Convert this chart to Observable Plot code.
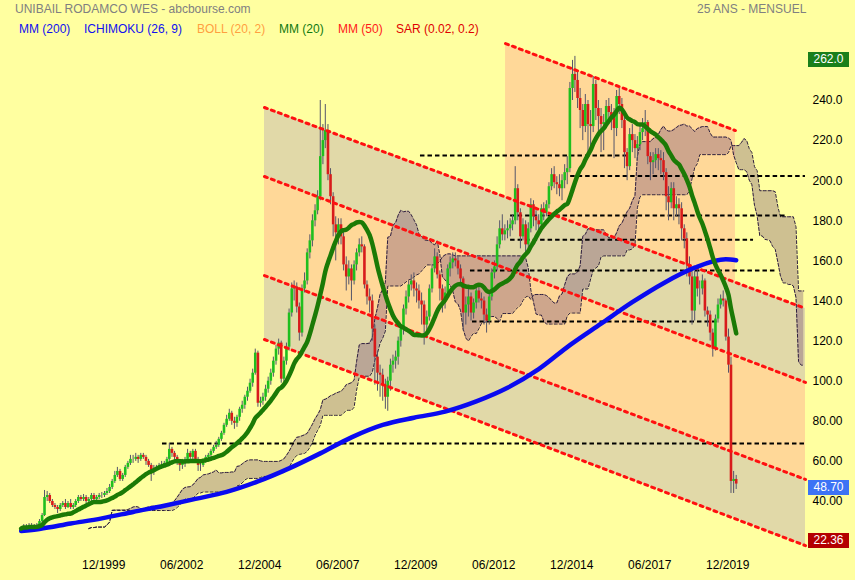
<!DOCTYPE html>
<html><head><meta charset="utf-8">
<script src="https://cdn.jsdelivr.net/npm/d3@7"></script>
<script src="https://cdn.jsdelivr.net/npm/@observablehq/plot@0.6"></script>
<style>
body{margin:0;background:#FFFFA0;}
#wrap{position:relative;width:855px;height:580px;overflow:hidden;font-family:"Liberation Sans",Arial,sans-serif;background:#FFFFA0;}
#wrap svg{position:absolute;left:0;top:0;}
.t{position:absolute;white-space:nowrap;font-size:12px;line-height:14px;}
.box{position:absolute;left:808px;width:41px;height:15px;color:#fff;font-size:12px;line-height:15px;text-align:center;}
</style></head><body><div id="wrap"></div>
<script>
// ---------- data (monthly, Jun 1997 -> May 2020) ----------
const firstMonth = [1997, 6];
const firstOpen = 26;
const closes = [
26.5,27.5,27,28,27.5,27,28,
30,33,42,43,40,38,37,36,38,39,37,39,
37,38,40,42,41,42,40,41,43,41,42,43,
43,44,45,47,50,53,55,51,53,57,59,61,
61,62,61,63,62,60,58,55,56,57,58,58,
59,61,66,64,62,60,58,59,61,64,62,65,
61,58,58,60,62,63,65,67,68,71,74,78,
81,84,80,79,82,86,88,92,95,99,104,114,
89,90,92,96,100,104,110,116,119,101,110,117,
134,146,147,137,124,146,150,164,170,180,185,192,
212,220,225,203,192,178,174,178,172,158,152,156,
150,158,164,168,167,148,142,140,126,112,104,103,
98,92,100,108,110,112,120,126,136,142,148,150,
146,145,140,138,128,132,146,156,162,153,146,140,
144,156,159,161,160,156,151,134,138,142,134,139,
145,141,140,133,130,142,154,157,168,176,173,175,
176,178,180,196,184,172,178,168,176,188,182,180,
178,186,184,188,197,203,199,198,196,200,204,206,
246,253,250,241,235,227,238,228,227,248,236,232,
228,229,237,234,232,226,242,238,230,214,207,223,
220,216,218,224,226,229,212,209,210,213,211,210,
204,192,189,196,186,188,186,176,171,158,152,135,
152,146,146,150,135,133,124,116,131,138,141,140,
122,108,50,51,48.7];
const highs = [
27.5,28.5,28.5,29,29,28.5,29,
31,34,45.5,45,44,41,39,38,39,40,41,40,
41,39,41,43,43,43.5,43,42,44,44,43,44,
44.5,45,46.5,48.5,51,55,57,56,54,58,60,63,
63,64,63,64,64,63,61,59,58,58,59,60,
60,62,69,67,65,63,61,61,62,66,65,66,
66,62,60,61,63,64,66,68,70,72,75,79,
83,86,85,82,83,87,90,93,97,101,106,116,
115,92,94,98,102,106,112,118,121,120,112,119,
136,149,150,149,139,148,154,166,173,183,188,195,
240,228,238,228,206,194,182,181,181,175,162,160,
158,160,166,171,172,168,150,146,143,128,115,108,
106,101,102,111,113,115,122,128,138,145,150,153,
154,149,148,144,140,135,148,158,166,164,155,148,
147,158,162,164,164,162,158,152,142,146,144,141,
147,148,144,142,136,144,156,160,172,180,183,178,
180,181,183,207,198,186,181,180,179,191,190,185,
183,188,189,190,199,206,207,202,203,203,208,212,
249,260,262,254,246,238,243,240,235,252,250,240,
236,233,240,241,238,236,245,246,241,232,216,226,
228,223,222,228,231,235,230,214,214,216,216,215,
214,206,197,199,199,192,191,189,178,174,162,155,
155,156,150,153,151,137,135,126,133,141,143,145,
141,126,112,55,53];
const lows = [
25.5,26,26.5,26.5,27,26.5,26.5,
27.5,29.5,32.5,40,39,37,36,34,35,37,36,36.5,
36,36,37,39,40,40,39,39,40,40,40,41,
41.5,42,43,44,46,49,52,50,50,52,56,58,
59,60,59,60,61,58,57,50,53,55,56,56,
57,58,60,62,60,58,55,56,57,60,61,61,
60,55,55,57,59,61,62,64,66,67,70,73,
77,80,78,76,77,80,84,86,90,94,97,103,
87,87,88,90,94,98,102,108,113,99,99,108,
115,132,140,134,120,122,144,148,161,167,177,183,
190,208,216,200,188,172,160,168,168,155,145,148,
140,148,155,162,164,146,138,134,120,98,95,92,
90,86,85,95,104,106,108,117,123,133,139,145,
142,139,136,128,118,125,130,144,154,151,140,134,
136,142,152,156,157,153,148,125,128,132,130,131,
136,139,136,128,124,128,140,151,155,166,170,170,
171,172,175,178,180,166,170,164,166,174,177,175,
173,176,180,182,186,195,196,193,192,190,196,198,
204,240,244,236,226,220,224,212,215,224,230,222,
214,215,226,228,225,211,222,233,226,206,200,205,
214,211,210,215,220,222,208,200,203,206,205,203,
200,185,180,186,180,182,178,170,166,152,148,128,
130,142,138,143,132,127,120,112,115,129,136,137,
120,104,44,44,46];

// MM(200)
const mm200Dates = ["1997-06","1998-01","1999-01","2000-01","2001-01","2002-01","2003-01","2004-01","2005-01","2006-01","2007-01","2008-01","2009-01","2010-01","2011-01","2012-01","2013-01","2014-01","2015-01","2016-01","2017-01","2018-01","2019-01","2020-01","2020-05"];
const mm200Values = [25.3,26.3,29,31.6,34.8,37.9,41.3,44.8,50,56.5,64,72,78.2,81.8,84.8,89.9,96.7,106,118,128.7,139.4,148.9,156.6,160.8,160.3];

// regression channels (start, end, [startValue, endValue] per line)
const chanAStart = "2005-03-19", chanAEnd = "2022-07-21";
const chanALines = [[236.5,136.3],[202.1,99.4],[152.7,51.0],[120.8,18.0]];
const chanBStart = "2012-12-09", chanBEnd = "2020-04-22";
const chanBTop = [268.4, 225.0];

// horizontal support / resistance levels
const levelValues = [212.6, 202.4, 182.6, 170.5, 155.2, 129.8, 68.9];
const levelFrom = ["2010-03-19","2015-01-10","2013-02-06","2013-02-06","2011-10-25","2011-11-18","2001-12-11"];
const levelTo   = ["2016-12-10","2022-07-21","2021-12-22","2020-11-20","2021-08-03","2019-09-25","2022-07-21"];

// axes
const yTicks = [40,60,80,100,120,140,160,180,200,220,240];
const xTicks = ["1999-12","2002-06","2004-12","2007-06","2009-12","2012-06","2014-12","2017-06","2019-12"];

// value boxes
const boxValues = [262.0, 48.70, 22.36];
const boxLabels = ["262.0", "48.70", "22.36"];
const boxColors = ["#1a7f1a", "#3d73f5", "#b40000"];

// ---------- derived ----------
const pd = s => { const [y,m,d] = s.split("-").map(Number); return new Date(Date.UTC(y, m-1, d||1)); };
const monthDate = i => new Date(Date.UTC(firstMonth[0], firstMonth[1]-1+i, 1));
const N = closes.length;
const candles = closes.map((c,i) => ({date: monthDate(i), o: i ? closes[i-1] : firstOpen, c, h: highs[i], l: lows[i]}));
candles.forEach(d => d.up = d.c >= d.o);

const mm20 = closes.map((_,i) => ({date: monthDate(i), v: d3.mean(closes.slice(Math.max(0,i-19), i+1))}));
const mm200 = mm200Dates.map((d,i) => ({date: pd(d), v: mm200Values[i]}));

const mid = (i,n) => (d3.max(highs.slice(Math.max(0,i-n+1), i+1)) + d3.min(lows.slice(Math.max(0,i-n+1), i+1))) / 2;
const cloud = closes.map((_,i) => {
  const tenkan = mid(i,9), kijun = mid(i,26);
  return {date: monthDate(i+26), a: (tenkan+kijun)/2, b: mid(i,52)};
});

const lerpDate = (d0, d1, v0, v1, d) => v0 + (v1-v0) * (d - d0) / (d1 - d0);
const aS = pd(chanAStart), aE = pd(chanAEnd), bS = pd(chanBStart), bE = pd(chanBEnd);
const band = (i,j) => [{x:aS, y1:chanALines[i][0], y2:chanALines[j][0]}, {x:aE, y1:chanALines[i][1], y2:chanALines[j][1]}];
const bandB = [
  {x:bS, y1:chanBTop[0], y2:lerpDate(aS,aE,chanALines[0][0],chanALines[0][1],bS)},
  {x:bE, y1:chanBTop[1], y2:lerpDate(aS,aE,chanALines[0][0],chanALines[0][1],bE)}
];
const redLines = chanALines.map(l => [{x:aS,v:l[0]},{x:aE,v:l[1]}]);
redLines.push([{x:bS,v:chanBTop[0]},{x:bE,v:chanBTop[1]}]);
const levels = levelValues.map((v,i) => ({v, x1: pd(levelFrom[i]), x2: pd(levelTo[i])}));

const BEIGE = "#E1D9A8", ORANGE = "#FFD898";
const fmtY = d3.format(".4r");
const fmtX = d3.utcFormat("%m/%Y");

const chart = Plot.plot({
  width: 855, height: 580,
  marginTop: 0, marginBottom: 0, marginLeft: 0, marginRight: 50,
  style: {background: "transparent", fontFamily: "'Liberation Sans', Arial, sans-serif", fontSize: "12px", color: "#000"},
  x: {type: "utc", domain: [monthDate(0), monthDate(N-1)], range: [20.7, 735.7], axis: null},
  y: {type: "linear", domain: [40, 240], range: [501, 100]},
  marks: [
    Plot.areaY(band(0,1), {x:"x", y1:"y1", y2:"y2", fill: BEIGE}),
    Plot.areaY(band(1,2), {x:"x", y1:"y1", y2:"y2", fill: ORANGE}),
    Plot.areaY(band(2,3), {x:"x", y1:"y1", y2:"y2", fill: BEIGE}),
    Plot.areaY(bandB, {x:"x", y1:"y1", y2:"y2", fill: ORANGE}),
    Plot.areaY(cloud, {x:"date", y1:"a", y2:"b", fill:"#6b3f73", fillOpacity:0.33}),
    Plot.lineY(cloud, {x:"date", y:"a", stroke:"#2e1f3e", strokeWidth:1, strokeDasharray:"3,2"}),
    Plot.lineY(cloud, {x:"date", y:"b", stroke:"#2e1f3e", strokeWidth:1, strokeDasharray:"3,2"}),
    Plot.ruleY(levels, {y:"v", x1:"x1", x2:"x2", stroke:"#000", strokeWidth:2, strokeDasharray:"4.5,3"}),
    Plot.ruleX(candles, {x:"date", y1:"l", y2:"h", stroke:"#55556a", strokeWidth:1}),
    Plot.ruleX(candles, {x:"date", y1:"o", y2:"c", stroke: d => d.up ? "#1fbf1f" : "#d81b1b", strokeWidth:2.6}),
    ...redLines.map(l => Plot.line(l, {x:"x", y:"v", stroke:"#ff1010", strokeWidth:3, strokeDasharray:"3,4.4"})),
    Plot.line(mm200, {x:"date", y:"v", stroke:"#0a0af0", strokeWidth:4.5, curve:"monotone-x"}),
    Plot.line(mm20, {x:"date", y:"v", stroke:"#1b7a06", strokeWidth:4.5, curve:"monotone-x"}),
    Plot.axisY(yTicks, {anchor:"right", tickSize:0, tickPadding:7, tickFormat: fmtY, fontSize:12, fill:"#000"}),
    Plot.text(xTicks.map(pd), {x: d => d, text: d => fmtX(d), frameAnchor:"bottom", dy:-12, dx:4.5, fontSize:12, fill:"#000"})
  ]
});
const wrap = document.getElementById("wrap");
wrap.appendChild(chart);

// title & legend
const addT = (txt, x, y, color) => { const e = document.createElement("div"); e.className="t"; e.textContent=txt; e.style.left=x+"px"; e.style.top=y+"px"; e.style.color=color; wrap.appendChild(e); };
addT("UNIBAIL RODAMCO WES - abcbourse.com", 15, 1.5, "#808080");
addT("25 ANS - MENSUEL", 697, 1.5, "#808080");
const legend = [["MM (200)",19,"#1010f0"],["ICHIMOKU (26, 9)",84,"#1010f0"],["BOLL (20, 2)",197,"#ffa040"],["MM (20)",279,"#107a10"],["MM (50)",338,"#ff1a1a"],["SAR (0.02, 0.2)",396,"#e00000"]];
legend.forEach(([t,x,c]) => addT(t, x, 22, c));

// value boxes positioned through the y scale
const ys = chart.scale("y");
boxValues.forEach((v,i) => {
  const e = document.createElement("div"); e.className="box"; e.textContent = boxLabels[i];
  e.style.background = boxColors[i]; e.style.top = (ys.apply(v) + 4 - 7.5) + "px"; wrap.appendChild(e);
});
</script></body></html>
